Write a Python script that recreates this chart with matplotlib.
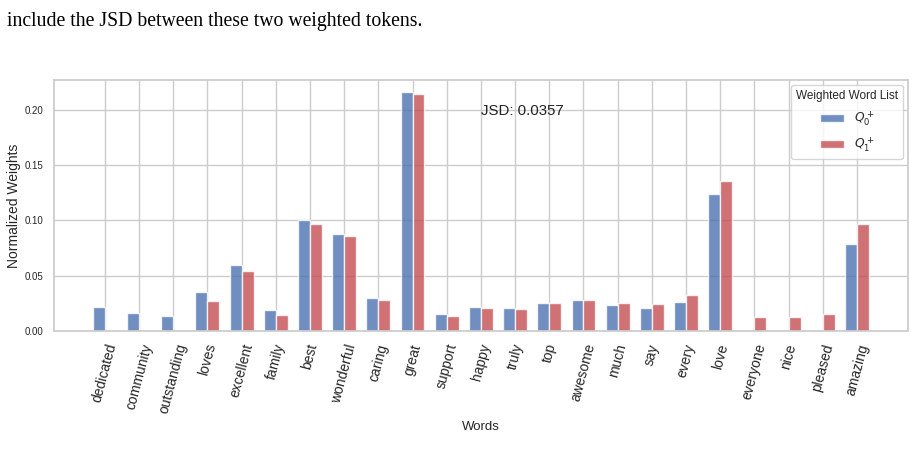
import matplotlib
matplotlib.use("Agg")
import matplotlib.pyplot as plt
import seaborn as sns
import numpy as np

words = ["dedicated", "community", "outstanding", "loves", "excellent", "family",
         "best", "wonderful", "caring", "great", "support", "happy", "truly", "top",
         "awesome", "much", "say", "every", "love", "everyone", "nice", "pleased",
         "amazing"]
q0 = [0.0218, 0.0160, 0.0138, 0.0350, 0.0600, 0.0194, 0.1000, 0.0880, 0.0297,
      0.2160, 0.0152, 0.0221, 0.0210, 0.0250, 0.0276, 0.0233, 0.0210, 0.0264,
      0.1236, 0.0, 0.0, 0.0, 0.0790]
q1 = [0.0, 0.0, 0.0, 0.0272, 0.0545, 0.0148, 0.0970, 0.0855, 0.0279,
      0.2140, 0.0134, 0.0210, 0.0200, 0.0250, 0.0276, 0.0257, 0.0242, 0.0327,
      0.1355, 0.0130, 0.0130, 0.0155, 0.0970]
jsd = 0.0357

sns.set_theme(style="whitegrid")
plt.rcParams['font.family'] = ['Liberation Sans', 'DejaVu Sans']

fig = plt.figure(figsize=(9.16, 4.55), dpi=100)
ax = fig.add_axes([0.059, 0.2725, 0.932, 0.5515])

x = np.arange(len(words))
w = 0.35
ax.bar(x - w, q0, w, align="edge", color="#4C72B0", alpha=0.8, label="$Q_0^+$")
ax.bar(x, q1, w, align="edge", color="#C44E52", alpha=0.8, label="$Q_1^+$")

ax.set_xticks(x)
ax.set_xticklabels(words, rotation=75, fontsize=10)
ax.tick_params(axis="y", labelsize=7, pad=2)
ax.tick_params(axis="x", pad=2)
ax.set_xlabel("Words", fontsize=9.5)
ax.set_ylabel("Normalized Weights", fontsize=10, labelpad=2)
ax.text(0.5, 0.876, "JSD: %.4f" % jsd, transform=ax.transAxes,
        fontsize=10.8, va="center", ha="left", color="#222222")

leg = ax.legend(title="Weighted Word List", loc="upper right", fontsize=8.8,
                title_fontsize=8.5, frameon=True, borderaxespad=0.4,
                labelspacing=0.6)

fig.text(0.008, 0.953, "include the JSD between these two weighted tokens.",
         family="Liberation Serif", fontsize=14.2, color="black", va="center")

fig.savefig("out.png", dpi=100)
